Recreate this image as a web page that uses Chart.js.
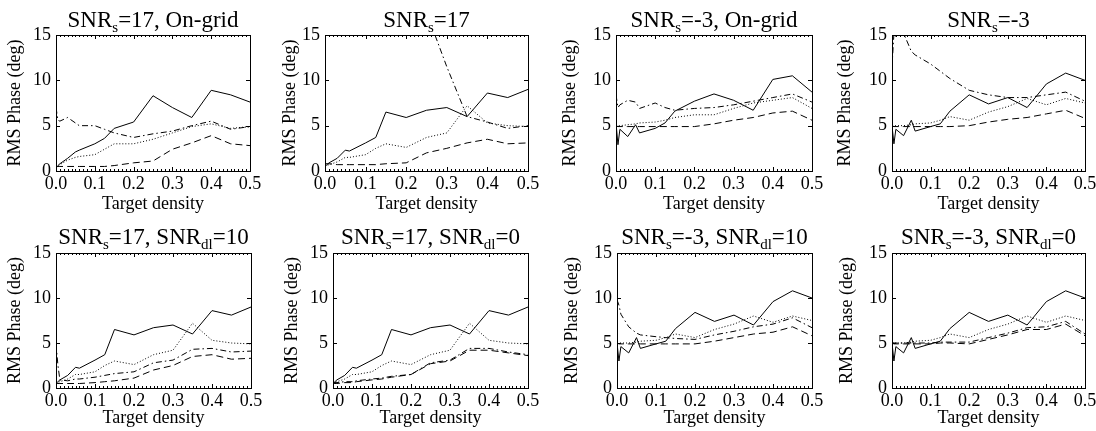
<!DOCTYPE html>
<html>
<head>
<meta charset="utf-8">
<script src="https://cdn.jsdelivr.net/npm/chart.js@4.4.1/dist/chart.umd.min.js"></script>
<style>
  html, body { margin: 0; padding: 0; background: #fff; }
  body { position: relative; width: 1096px; height: 431px; overflow: hidden; }
  canvas { position: absolute; }
</style>
</head>
<body>
<script>
// target density grid and axis ticks
const xs = [0, 0.005, 0.01, 0.03, 0.05, 0.06, 0.1, 0.125, 0.15, 0.2, 0.25, 0.3, 0.35, 0.4, 0.45, 0.5];
const xTicks = [0, 0.1, 0.2, 0.3, 0.4, 0.5];
const yTicks = [0, 5, 10, 15];
const xMinorStep = 0.01;

// SNRs=17, on-grid
const p1Solid   = [0.3, 0.6, 0.8, 1.4, 2.1, 2.3, 3.0, 3.6, 4.7, 5.4, 8.3, 7.0, 5.9, 8.9, 8.4, 7.6];
const p1Dotted  = [0.4, 0.5, 0.7, 1.2, 1.5, 1.6, 1.8, 2.4, 3.0, 3.0, 3.5, 4.2, 4.9, 5.2, 4.7, 4.9];
const p1Dashed  = [0.5, 0.5, 0.5, 0.5, 0.5, 0.5, 0.5, 0.5, 0.6, 0.9, 1.1, 2.4, 3.1, 3.9, 3.0, 2.8];
const p1DashDot = [7.0, 5.6, 5.5, 5.9, 5.3, 5.0, 5.0, 4.6, 4.2, 3.7, 4.1, 4.4, 5.0, 5.5, 4.6, 4.9];

// SNRs=17, off-grid (solid and dotted shared by three panels)
const solid17  = [0.5, 0.7, 0.9, 1.4, 2.3, 2.2, 3.1, 3.7, 6.5, 5.9, 6.7, 7.0, 6.0, 8.6, 8.1, 9.0];
const dotted17 = [0.5, 0.6, 0.7, 1.0, 1.5, 1.5, 1.8, 2.5, 3.0, 2.6, 3.7, 4.2, 7.2, 5.3, 5.0, 4.9];
const p2Dashed  = [0.8, 0.8, 0.8, 0.7, 0.7, 0.7, 0.7, 0.7, 0.8, 0.9, 2.0, 2.5, 3.1, 3.5, 3.0, 3.1];
const p2DashDot = [40, 40, 40, 40, 40, 40, 38, 36, 34, 26, 17.5, 11.5, 6.0, 5.4, 4.7, 5.0];
const p5Dashed  = [0.5, 0.5, 0.5, 0.5, 0.5, 0.5, 0.6, 0.7, 0.8, 1.1, 2.0, 2.5, 3.5, 3.7, 3.2, 3.3];
const p5DashDot = [4.9, 2.5, 0.9, 0.8, 1.0, 1.0, 1.2, 1.4, 1.6, 1.8, 2.8, 3.1, 4.3, 4.4, 4.0, 4.1];
const p6Dashed  = [0.5, 0.5, 0.5, 0.6, 0.6, 0.7, 0.9, 1.0, 1.2, 1.5, 2.7, 3.0, 4.2, 4.2, 3.9, 3.6];
const p6DashDot = [0.6, 0.6, 0.6, 0.7, 0.7, 0.8, 1.0, 1.1, 1.3, 1.5, 2.8, 3.1, 4.4, 4.4, 4.0, 3.7];

// SNRs=-3, on-grid
const p3Solid   = [5.3, 2.9, 4.6, 3.8, 5.1, 4.2, 4.7, 5.3, 6.6, 7.7, 8.5, 7.8, 6.7, 10.1, 10.5, 8.7];
const p3Dotted  = [5.1, 5.0, 5.0, 5.1, 5.2, 5.3, 5.4, 5.6, 5.9, 6.2, 6.2, 6.9, 7.5, 7.8, 8.1, 6.9];
const p3Dashed  = [5.0, 4.9, 4.9, 4.9, 4.9, 4.9, 4.9, 4.9, 4.9, 4.9, 5.2, 5.6, 5.9, 6.4, 6.6, 5.6];
const p3DashDot = [8.4, 7.0, 7.3, 7.8, 7.6, 6.9, 7.5, 7.0, 6.7, 6.9, 7.0, 7.3, 7.7, 8.1, 8.5, 7.6];

// SNRs=-3, off-grid
const solidM3  = [5.0, 3.0, 4.6, 3.9, 5.6, 4.4, 4.9, 5.2, 6.6, 8.4, 7.4, 8.1, 7.0, 9.6, 10.8, 10.0];
const dottedM3 = [5.0, 5.0, 5.0, 5.0, 5.1, 5.2, 5.3, 5.6, 6.0, 5.6, 6.5, 7.1, 8.0, 7.3, 8.0, 7.5];
const p4Dashed  = [5.0, 4.9, 4.9, 4.9, 4.9, 4.9, 4.9, 4.9, 4.9, 5.0, 5.4, 5.7, 5.9, 6.3, 6.7, 5.8];
const p4DashDot = [11.5, 15.2, 14.8, 15.2, 13.2, 12.8, 11.8, 11.0, 10.2, 8.9, 8.4, 8.1, 8.1, 8.4, 8.7, 7.7];
const p7Dashed  = [5.0, 4.9, 4.9, 4.9, 4.9, 4.9, 4.9, 4.9, 4.9, 4.9, 5.2, 5.6, 6.0, 6.2, 6.8, 5.8];
const p7DashDot = [9.8, 9.2, 8.2, 6.8, 6.1, 5.9, 5.7, 5.6, 5.5, 5.4, 5.9, 6.3, 6.8, 7.1, 7.8, 6.7];
const p8Dashed  = [5.0, 4.9, 4.9, 4.9, 4.9, 4.9, 4.9, 5.0, 5.0, 4.9, 5.4, 5.9, 6.5, 6.5, 7.1, 5.8];
const p8DashDot = [5.1, 5.0, 5.0, 5.0, 5.0, 5.0, 5.0, 5.1, 5.1, 5.1, 5.6, 6.1, 6.7, 6.8, 7.4, 6.0];

// title segments: [text, isSubscript]
const titles = [
  [['SNR'], ['s', 1], ['=17, On-grid']],
  [['SNR'], ['s', 1], ['=17']],
  [['SNR'], ['s', 1], ['=-3, On-grid']],
  [['SNR'], ['s', 1], ['=-3']],
  [['SNR'], ['s', 1], ['=17, SNR'], ['dl', 1], ['=10']],
  [['SNR'], ['s', 1], ['=17, SNR'], ['dl', 1], ['=0']],
  [['SNR'], ['s', 1], ['=-3, SNR'], ['dl', 1], ['=10']],
  [['SNR'], ['s', 1], ['=-3, SNR'], ['dl', 1], ['=0']]
];
const seriesSets = [
  [p1Solid, p1Dotted, p1Dashed, p1DashDot],
  [solid17, dotted17, p2Dashed, p2DashDot],
  [p3Solid, p3Dotted, p3Dashed, p3DashDot],
  [solidM3, dottedM3, p4Dashed, p4DashDot],
  [solid17, dotted17, p5Dashed, p5DashDot],
  [solid17, dotted17, p6Dashed, p6DashDot],
  [solidM3, dottedM3, p7Dashed, p7DashDot],
  [solidM3, dottedM3, p8Dashed, p8DashDot]
];

// layout: plot box [left, top, right, bottom] in page pixels, y-title centre x
const boxes = [
  [56, 35, 250, 171], [325, 35, 528, 171], [616, 35, 812, 171], [892, 35, 1085, 171],
  [56, 253, 251, 388], [333, 253, 528, 388], [617, 253, 812, 388], [892, 253, 1085, 388]
];
const yTitleX = [15, 290, 570, 845, 15, 292, 572, 847];
const dashes = [[], [1, 2], [7, 4], [6, 3, 1.5, 3]];
const SERIF = 'Liberation Serif';

Chart.defaults.font.family = SERIF;
Chart.defaults.font.size = 18;
Chart.defaults.color = '#000';

const framePlugin = {
  id: 'frame',
  afterDatasetsDraw(chart) {
    const { ctx, chartArea: a, scales: { x, y } } = chart;
    ctx.save();
    ctx.strokeStyle = '#000';
    ctx.lineWidth = 1;
    ctx.setLineDash([]);
    ctx.beginPath();
    const n = Math.round(0.5 / xMinorStep);
    for (let i = 1; i < n; i++) {
      const px = Math.round(x.getPixelForValue(i * xMinorStep)) + 0.5;
      const len = i % 10 === 0 ? 4 : 2;
      ctx.moveTo(px, a.bottom); ctx.lineTo(px, a.bottom - len);
      ctx.moveTo(px, a.top); ctx.lineTo(px, a.top + len);
    }
    yTicks.slice(1, -1).forEach(v => {
      const py = Math.round(y.getPixelForValue(v)) + 0.5;
      ctx.moveTo(a.left, py); ctx.lineTo(a.left + 4, py);
      ctx.moveTo(a.right, py); ctx.lineTo(a.right - 4, py);
    });
    ctx.stroke();
    ctx.strokeRect(Math.round(a.left) + 0.5, Math.round(a.top) + 0.5,
      Math.round(a.right - a.left), Math.round(a.bottom - a.top));

    // panel title with subscripts
    const segs = chart.options.plugins.frame.title;
    const big = '23px ' + SERIF, small = '15px ' + SERIF;
    let total = 0;
    segs.forEach(([t, sub]) => { ctx.font = sub ? small : big; total += ctx.measureText(t).width; });
    let cx = (a.left + a.right) / 2 - total / 2;
    const base = a.top - chart.options.plugins.frame.gap;
    ctx.fillStyle = '#000';
    ctx.textBaseline = 'alphabetic';
    ctx.textAlign = 'left';
    segs.forEach(([t, sub]) => {
      ctx.font = sub ? small : big;
      ctx.fillText(t, cx, sub ? base + 5 : base);
      cx += ctx.measureText(t).width;
    });
    ctx.restore();
  }
};

function makePanel(i) {
  const [L, T, R, B] = boxes[i];
  const row = i < 4 ? 0 : 1;
  const padL = 60, padT = 36, padR = 20, axH = 50;

  const cv = document.createElement('canvas');
  const w = (R - L) + padL + padR, h = (B - T) + padT + axH;
  cv.width = w; cv.height = h;
  Object.assign(cv.style, { left: (L - padL) + 'px', top: (T - padT) + 'px', width: w + 'px', height: h + 'px' });
  document.body.appendChild(cv);

  const half = 18 * 1.2 / 2;
  const yTitlePad = yTitleX[i] - (L - padL) - half;
  const xTitlePad = (row ? 20 : 17) - half;

  new Chart(cv, {
    type: 'line',
    data: {
      datasets: seriesSets[i].map((vals, k) => ({
        data: vals.map((v, j) => ({ x: xs[j], y: v })),
        borderColor: '#000', borderWidth: 1, borderDash: dashes[k],
        pointRadius: 0, tension: 0, fill: false
      }))
    },
    options: {
      responsive: false,
      animation: false,
      events: [],
      layout: { padding: { left: 0, top: padT, right: padR, bottom: 0 } },
      plugins: {
        legend: { display: false },
        tooltip: { enabled: false },
        frame: { title: titles[i], gap: row ? 9 : 8 }
      },
      scales: {
        x: {
          type: 'linear', min: 0, max: 0.5,
          grid: { display: false, drawTicks: false },
          border: { display: false },
          afterBuildTicks: s => { s.ticks = xTicks.map(v => ({ value: v })); },
          afterFit: s => { s.height = axH; s.paddingLeft = 0; s.paddingRight = 0; },
          ticks: { padding: 2, maxRotation: 0, callback: v => v.toFixed(1) },
          title: { display: true, text: 'Target density', padding: { top: 0, bottom: xTitlePad } }
        },
        y: {
          min: 0, max: 15,
          grid: { display: false, drawTicks: false },
          border: { display: false },
          afterBuildTicks: s => { s.ticks = yTicks.map(v => ({ value: v })); },
          afterFit: s => { s.width = padL; s.paddingTop = 0; s.paddingBottom = 0; },
          ticks: { padding: 5 },
          title: { display: true, text: 'RMS Phase (deg)', padding: { top: yTitlePad, bottom: 0 } }
        }
      }
    },
    plugins: [framePlugin]
  });
}

document.addEventListener('DOMContentLoaded', () => {
  for (let i = 0; i < boxes.length; i++) makePanel(i);
});
</script>
</body>
</html>
